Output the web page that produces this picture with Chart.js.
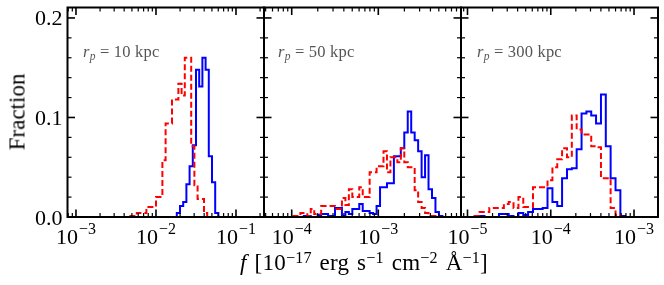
<!DOCTYPE html>
<html><head><meta charset="utf-8">
<script src="https://cdn.jsdelivr.net/npm/chart.js@4.4.1/dist/chart.umd.min.js"></script>
<style>
html,body{margin:0;padding:0;background:#fff;}
#wrap{position:relative;width:664px;height:285px;overflow:hidden;background:#fff;}
canvas{position:absolute;left:0;top:0;}
.t{position:absolute;font-family:"Liberation Serif",serif;color:#000;white-space:nowrap;line-height:1;}
.t sup{font-size:0.7em;line-height:0;vertical-align:0.45em;}
.t sub{font-size:0.7em;line-height:0;vertical-align:-0.25em;}
.ann{color:#555;font-size:16.5px;top:43.5px;letter-spacing:0.2px;}
</style></head><body>
<div id="wrap">
<canvas id="c1" width="664" height="285"></canvas>
<canvas id="c2" width="664" height="285"></canvas>
<canvas id="c3" width="664" height="285"></canvas>
<div style="position:absolute;left:16.5px;top:112px;width:0;height:0;"><div class="t" style="font-size:23px;transform:translate(-50%,-50%) rotate(-90deg);">Fraction</div></div>
<div class="t" style="left:364px;top:250.5px;font-size:23px;letter-spacing:0.2px;word-spacing:2px;transform:translateX(-50%);"><i>f</i> [10<sup>−17</sup> erg s<sup>−1</sup> cm<sup>−2</sup> Å<sup>−1</sup>]</div>
<div class="t ann" style="left:83px;"><i>r</i><sub><i>p</i></sub> = 10 kpc</div>
<div class="t ann" style="left:278px;"><i>r</i><sub><i>p</i></sub> = 50 kpc</div>
<div class="t ann" style="left:477px;"><i>r</i><sub><i>p</i></sub> = 300 kpc</div>
</div>
<script>
// ---------- data (bin edges in log10 of flux, fractions per bin) ----------
const P1_RED_EDGES = [-2.32,-2.28,-2.24,-2.20,-2.16,-2.12,-2.08,-2.04,-2.00,-1.96,-1.92,-1.88,-1.84,-1.80,-1.76,-1.72,-1.68,-1.64,-1.60,-1.56,-1.52,-1.48,-1.44,-1.40,-1.36];
const P1_RED = [0.001,0.001,0.004,0.004,0.004,0.010,0.010,0.010,0.020,0.020,0.057,0.094,0.094,0.118,0.118,0.134,0.122,0.160,0.160,0.071,0.032,0.018,0.018,0.004];
const P1_BLUE_EDGES = [-1.74,-1.70,-1.66,-1.62,-1.58,-1.54,-1.50,-1.46,-1.42,-1.38,-1.34,-1.30,-1.26,-1.22];
const P1_BLUE = [0.004,0.011,0.015,0.033,0.051,0.072,0.148,0.131,0.160,0.148,0.061,0.035,0.004];

const P2_RED_EDGES = [-3.98,-3.94,-3.90,-3.86,-3.82,-3.78,-3.74,-3.70,-3.66,-3.62,-3.58,-3.54,-3.50,-3.46,-3.42,-3.38,-3.34,-3.30,-3.26,-3.22,-3.18,-3.14,-3.10,-3.06,-3.02,-2.98,-2.94,-2.90,-2.86,-2.82,-2.78,-2.74,-2.70,-2.66,-2.62,-2.58,-2.54,-2.50,-2.46,-2.42,-2.38,-2.34];
const P2_RED = [0.001,0.001,0.004,0.004,0.001,0.008,0.003,0.003,0.011,0.011,0.011,0.011,0.008,0.008,0.019,0.012,0.028,0.020,0.020,0.030,0.020,0.020,0.045,0.045,0.051,0.051,0.066,0.045,0.060,0.060,0.055,0.069,0.055,0.050,0.050,0.027,0.015,0.009,0.004,0.001,0.001];
const P2_BLUE_EDGES = [-3.86,-3.82,-3.78,-3.74,-3.70,-3.66,-3.62,-3.58,-3.54,-3.50,-3.46,-3.42,-3.38,-3.34,-3.30,-3.26,-3.22,-3.18,-3.14,-3.10,-3.06,-3.02,-2.98,-2.94,-2.90,-2.86,-2.82,-2.78,-2.74,-2.70,-2.66,-2.62,-2.58,-2.54,-2.50,-2.46,-2.42,-2.38,-2.34,-2.30,-2.26];
const P2_BLUE = [0.001,0.001,0,0,0.002,0.003,0.003,0.001,0.001,0.009,0.009,0.001,0.005,0.003,0.008,0.008,0.013,0.006,0.006,0.004,0.003,0.011,0.030,0.030,0.034,0.034,0.061,0.061,0.069,0.085,0.106,0.085,0.077,0.066,0.040,0.062,0.028,0.019,0.005,0.001];

const P3_EDGES = [-4.913,-4.855,-4.796,-4.738,-4.680,-4.622,-4.563,-4.505,-4.447,-4.388,-4.330,-4.272,-4.213,-4.155,-4.097,-4.039,-3.980,-3.922,-3.864,-3.805,-3.747,-3.689,-3.630,-3.572,-3.514,-3.456,-3.397,-3.339,-3.281,-3.222,-3.164,-3.106];
const P3_RED = [0.001,0.005,0.005,0.009,0.009,0.009,0.013,0.015,0.009,0.020,0.010,0.010,0.030,0.030,0.030,0.037,0.050,0.058,0.069,0.060,0.102,0.088,0.083,0.083,0.071,0.070,0.039,0.039,0.009,0.002];
const P3_BLUE = [0.001,0.001,0,0,0,0.003,0.003,0.001,0,0.004,0.002,0.005,0.008,0.008,0.009,0.029,0.015,0.011,0.039,0.048,0.049,0.068,0.104,0.106,0.102,0.094,0.123,0.071,0.039,0.027,0.001];

const P1_XLIM = [-3.106,-0.65], P2_XLIM = [-4.32,-2.045], P3_XLIM = [-5.078,-2.712];
const P1_XTICKS = [-3,-2,-1], P2_XTICKS = [-4,-3], P3_XTICKS = [-5,-4,-3];
const Y_MAJOR = [0.0,0.1,0.2];
const Y_MINOR = [0.02,0.04,0.06,0.08,0.12,0.14,0.16,0.18];
const Y_MAX = 0.2105;

// ---------- helpers ----------
function stepPoints(edges, vals){
  const pts = [{x:Math.pow(10,edges[0]), y:0}];
  for (let i=0;i<vals.length;i++){
    pts.push({x:Math.pow(10,edges[i]), y:vals[i]});
    pts.push({x:Math.pow(10,edges[i+1]), y:vals[i]});
  }
  pts.push({x:Math.pow(10,edges[vals.length]), y:0});
  return pts;
}
const FONT = '"Liberation Serif", serif';
const axesPlugin = {
  id:'axesFrame',
  afterDatasetsDraw(chart, args, o){
    const ctx = chart.ctx, a = chart.chartArea, xs = chart.scales.x, ys = chart.scales.y;
    ctx.save();
    ctx.strokeStyle = '#000'; ctx.lineCap = 'butt';
    const seg = (x1,y1,x2,y2,w)=>{ctx.lineWidth=w;ctx.beginPath();ctx.moveTo(x1,y1);ctx.lineTo(x2,y2);ctx.stroke();};
    const eMin = Math.floor(Math.log10(xs.min)), eMax = Math.ceil(Math.log10(xs.max));
    for (let e=eMin;e<=eMax;e++) for (let m=1;m<=9;m++){
      const v = m*Math.pow(10,e);
      if (v < xs.min || v > xs.max) continue;
      const p = xs.getPixelForValue(v);
      const major = (m===1), L = major?7.5:4, w = major?1.6:1.2;
      seg(p,a.bottom,p,a.bottom-L,w); seg(p,a.top,p,a.top+L,w);
    }
    for (const v of Y_MAJOR){ const p = ys.getPixelForValue(v); seg(a.left,p,a.left+7.5,p,1.6); seg(a.right,p,a.right-7.5,p,1.6); }
    for (const v of Y_MINOR){ const p = ys.getPixelForValue(v); seg(a.left,p,a.left+4,p,1.2); seg(a.right,p,a.right-4,p,1.2); }
    ctx.lineWidth = 2; ctx.strokeRect(a.left, a.top, a.right-a.left, a.bottom-a.top);
    // tick labels
    ctx.fillStyle = '#000'; ctx.textBaseline = 'alphabetic'; ctx.textAlign = 'left';
    for (const ex of o.xTicks){
      const p = xs.getPixelForValue(Math.pow(10,ex));
      const base = '10', sup = '\u2212' + Math.abs(ex);
      ctx.font = '22px ' + FONT; const wb = ctx.measureText(base).width;
      ctx.font = '16px ' + FONT; const ws = ctx.measureText(sup).width;
      const x0 = p - (wb+ws+1)/2;
      ctx.font = '22px ' + FONT; ctx.fillText(base, x0, 243.5);
      ctx.font = '16px ' + FONT; ctx.fillText(sup, x0+wb+1, 234);
    }
    if (o.yLabels){
      ctx.font = '22px ' + FONT; ctx.textAlign = 'right';
      for (const v of Y_MAJOR){ const p = ys.getPixelForValue(v); ctx.fillText(v.toFixed(1), a.left-5, p+7.5); }
    }
    ctx.restore();
  }
};
function makePanel(id, box, xlim, xTicks, yLabels, redE, red, blueE, blue){
  return new Chart(document.getElementById(id), {
    type:'scatter',
    data:{datasets:[
      {data:stepPoints(redE, red), showLine:true, borderColor:'#ff0000', borderWidth:2, borderDash:[6,3], pointRadius:0, tension:0, fill:false},
      {data:stepPoints(blueE, blue), showLine:true, borderColor:'#0000ff', borderWidth:2, pointRadius:0, tension:0, fill:false}
    ]},
    options:{
      responsive:false, animation:false, devicePixelRatio:1,
      layout:{padding:{left:box[0], right:664-box[1], top:7.5, bottom:285-217}},
      plugins:{legend:{display:false}, tooltip:{enabled:false}, axesFrame:{xTicks, yLabels}},
      events:[],
      scales:{
        x:{type:'logarithmic', min:Math.pow(10,xlim[0]), max:Math.pow(10,xlim[1]), display:false},
        y:{type:'linear', min:0, max:Y_MAX, display:false}
      }
    },
    plugins:[axesPlugin]
  });
}
makePanel('c1',[67.5,264], P1_XLIM, P1_XTICKS, true,  P1_RED_EDGES, P1_RED, P1_BLUE_EDGES, P1_BLUE);
makePanel('c2',[264,461],  P2_XLIM, P2_XTICKS, false, P2_RED_EDGES, P2_RED, P2_BLUE_EDGES, P2_BLUE);
makePanel('c3',[461,658],  P3_XLIM, P3_XTICKS, false, P3_EDGES, P3_RED, P3_EDGES, P3_BLUE);
</script>
</body></html>
